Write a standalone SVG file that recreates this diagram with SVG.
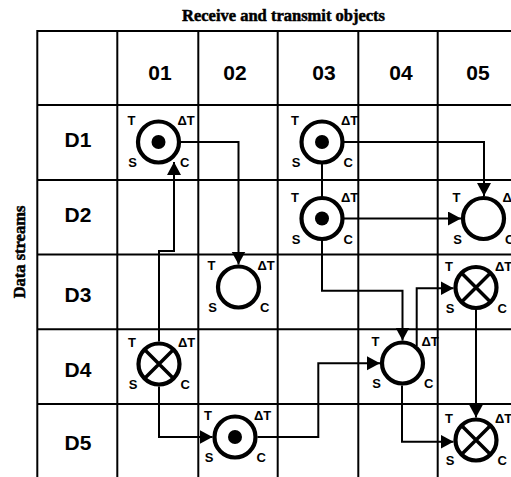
<svg xmlns="http://www.w3.org/2000/svg" width="511" height="477" viewBox="0 0 511 477">
<style>
.grid{stroke:#000;stroke-width:2;fill:none}
.ring{fill:#fff;stroke:#000;stroke-width:4.2}
.dot{fill:#000}
.x{stroke:#000;stroke-width:3.5}
.lbl{font-family:"Liberation Sans",Arial,sans-serif;font-weight:bold;font-size:13px;fill:#000}
.hdr{font-family:"Liberation Sans",Arial,sans-serif;font-weight:bold;font-size:21px;fill:#000;text-anchor:middle}
.ttl{font-family:"Liberation Serif","Times New Roman",serif;font-weight:bold;font-size:16.5px;fill:#000;stroke:#000;stroke-width:0.5;text-anchor:middle}
.conn{fill:none;stroke:#000;stroke-width:2;marker-end:url(#arr)}
</style>
<defs>
<marker id="arr" markerUnits="userSpaceOnUse" markerWidth="15" markerHeight="16" refX="13" refY="7" orient="auto">
<path d="M0,0 L13,7 L0,14 Z" fill="#000"/>
</marker>
<g id="labels">
<text class="lbl" x="-27" y="-17" text-anchor="middle">T</text>
<text class="lbl" x="19" y="-17">ΔT</text>
<text class="lbl" x="-26" y="25" text-anchor="middle">S</text>
<text class="lbl" x="21.5" y="25">C</text>
</g>
</defs>
<rect width="511" height="477" fill="#fff"/>
<text class="ttl" x="283.5" y="20.5">Receive and transmit objects</text>
<text class="ttl" transform="translate(25,252) rotate(-90)">Data streams</text>
<g id="grid" class="grid">
<line x1="37.3" y1="31" x2="511" y2="31"/>
<line x1="37.3" y1="105" x2="511" y2="105"/>
<line x1="37.3" y1="180" x2="511" y2="180"/>
<line x1="37.3" y1="254.5" x2="511" y2="254.5"/>
<line x1="37.3" y1="329.3" x2="511" y2="329.3"/>
<line x1="37.3" y1="404" x2="511" y2="404"/>
<line x1="37.3" y1="30" x2="37.3" y2="477"/>
<line x1="117.3" y1="30" x2="117.3" y2="477"/>
<line x1="198.3" y1="30" x2="198.3" y2="477"/>
<line x1="277.7" y1="30" x2="277.7" y2="477"/>
<line x1="358.3" y1="30" x2="358.3" y2="477"/>
<line x1="437.7" y1="30" x2="437.7" y2="477"/>
</g>
<g id="headers">
<text class="hdr" x="160" y="80">01</text>
<text class="hdr" x="235" y="80">02</text>
<text class="hdr" x="324" y="80">03</text>
<text class="hdr" x="401" y="80">04</text>
<text class="hdr" x="478" y="80">05</text>
<text class="hdr" x="78" y="147">D1</text>
<text class="hdr" x="78" y="222">D2</text>
<text class="hdr" x="78" y="301.5">D3</text>
<text class="hdr" x="78" y="376.5">D4</text>
<text class="hdr" x="78" y="450">D5</text>
</g>
<g id="connectors">
<path class="conn" d="M180.5,142 H238.5 V264.5"/>
<path class="conn" d="M159,341.5 V251 H174 V162"/>
<path class="conn" d="M344,142 H484 V196"/>
<path class="conn" d="M322,164 V210"/>
<path class="conn" d="M344,218.5 H461"/>
<path class="conn" d="M322,241 V290.7 H402.5 V340.5"/>
<path class="conn" d="M416.7,346 V288.3 H453.5"/>
<path class="conn" d="M159,386.5 V437 H212.5"/>
<path class="conn" d="M257.5,437 H318.3 V363.3 H380"/>
<path class="conn" d="M402,385.5 V441.7 H453.5"/>
<path class="conn" d="M476,310 V417.5"/>
</g>
<g id="n01-D1" transform="translate(158.5,142)">
<circle class="ring" r="20.5"/><circle class="dot" r="7"/><use href="#labels"/>
</g>
<g id="n03-D1" transform="translate(322,142)">
<circle class="ring" r="20.5"/><circle class="dot" r="7"/><use href="#labels"/>
</g>
<g id="n03-D2" transform="translate(322,218.5)">
<circle class="ring" r="20.5"/><circle class="dot" r="7"/><use href="#labels"/>
</g>
<g id="n05-D2" transform="translate(483.5,218.5)">
<circle class="ring" r="20.5"/><use href="#labels"/>
</g>
<g id="n02-D3" transform="translate(238.5,287)">
<circle class="ring" r="20.5"/><use href="#labels"/>
</g>
<g id="n05-D3" transform="translate(476,287.5)">
<circle class="ring" r="20.5"/><path class="x" d="M-14.5,-14.5 L14.5,14.5 M14.5,-14.5 L-14.5,14.5"/><use href="#labels"/>
</g>
<g id="n01-D4" transform="translate(159,364)">
<circle class="ring" r="20.5"/><path class="x" d="M-14.5,-14.5 L14.5,14.5 M14.5,-14.5 L-14.5,14.5"/><use href="#labels"/>
</g>
<g id="n04-D4" transform="translate(402.5,363)">
<circle class="ring" r="20.5"/><use href="#labels"/>
</g>
<g id="n02-D5" transform="translate(235,437)">
<circle class="ring" r="20.5"/><circle class="dot" r="7"/><use href="#labels"/>
</g>
<g id="n05-D5" transform="translate(476,440)">
<circle class="ring" r="20.5"/><path class="x" d="M-14.5,-14.5 L14.5,14.5 M14.5,-14.5 L-14.5,14.5"/><use href="#labels"/>
</g>
</svg>
